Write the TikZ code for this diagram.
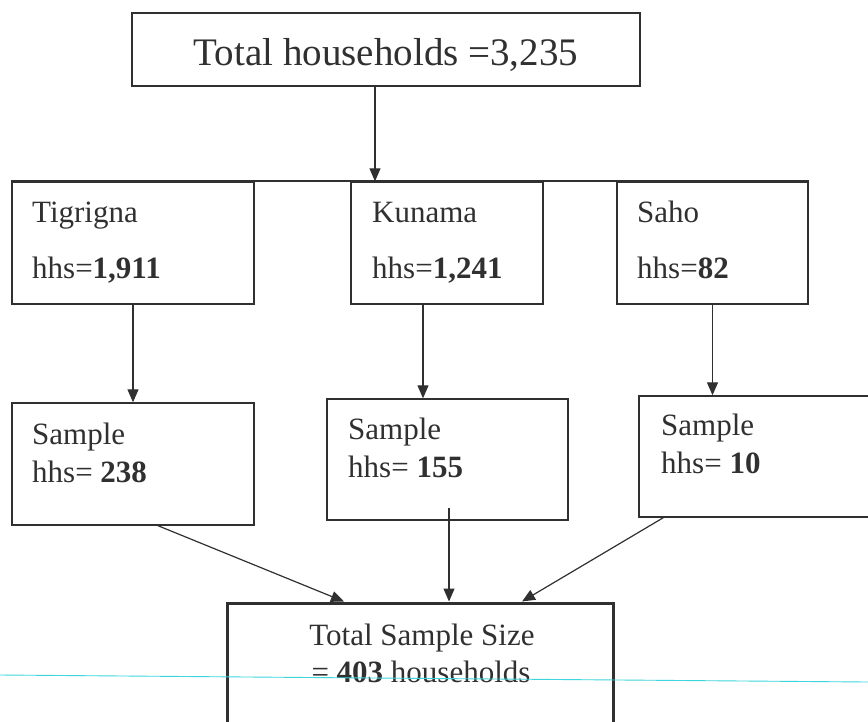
\documentclass[tikz,border=0pt]{standalone}
\usepackage{fontspec}
\setmainfont{Liberation Serif}
\usetikzlibrary{arrows.meta}
\definecolor{ink}{HTML}{303030}
\definecolor{scan}{HTML}{3CD6DC}
\begin{document}
\begin{tikzpicture}[x=1pt,y=-1pt,
  rbox/.style={draw=ink, line width=1.4pt, inner sep=0pt, anchor=center},
  lbl/.style={anchor=base west, inner sep=0pt, text=ink, font=\fontsize{31}{31}\selectfont},
  clbl/.style={anchor=base, inner sep=0pt, text=ink, font=\fontsize{31}{31}\selectfont},
  arr/.style={draw=ink, line width=1.2pt, -{Triangle[length=13pt,width=11pt]}}]
\clip (0,0) rectangle (868,721);
\fill[white] (0,0) rectangle (868,721);
% boxes
\node[rbox, minimum width=508pt, minimum height=73pt] (top) at (386,49.5) {};
\node[rbox, minimum width=242pt, minimum height=122pt] (tig) at (133,243) {};
\node[rbox, minimum width=192pt, minimum height=122pt] (kun) at (447,243) {};
\node[rbox, minimum width=191pt, minimum height=122pt] (saho) at (712.5,243) {};
\node[rbox, minimum width=242pt, minimum height=122pt] (s1) at (133,464) {};
\node[rbox, minimum width=241pt, minimum height=121pt] (s2) at (447.5,459.5) {};
\node[rbox, minimum width=241pt, minimum height=121pt] (s3) at (759.5,456.5) {};
\node[rbox, line width=3pt, minimum width=386pt, minimum height=127pt] (fin) at (420,666.5) {};
% bar across tops
\draw[draw=ink, line width=1.8pt] (tig.north west) -- (saho.north east);
% texts
\node[anchor=base, inner sep=0pt, text=ink, font=\fontsize{39}{39}\selectfont] (topt) at (386,65) {Total households =3,235};
\node[lbl] (tigA) at (32,222) {Tigrigna};
\node[lbl] (tigB) at (32,278) {hhs=\textbf{1,911}};
\node[lbl] (kunA) at (372,222) {Kunama};
\node[lbl] (kunB) at (372,278) {hhs=\textbf{1,241}};
\node[lbl] (sahoA) at (637,222) {Saho};
\node[lbl] (sahoB) at (637,278) {hhs=\textbf{82}};
\node[lbl] (s1A) at (32,444) {Sample};
\node[lbl] (s1B) at (32,482) {hhs= \textbf{238}};
\node[lbl] (s2A) at (348,439) {Sample};
\node[lbl] (s2B) at (348,477) {hhs= \textbf{155}};
\node[lbl] (s3A) at (661,435) {Sample};
\node[lbl] (s3B) at (661,473) {hhs= \textbf{10}};
\node[clbl] (finA) at (422,645) {Total Sample Size};
\node[clbl] (finB) at (421,682) {= \textbf{403} households};
% connectors
\draw[arr] ([xshift=-11pt]top.south) -- ([xshift=-11pt]top.south |- tig.north);
\draw[arr] (tig.south) -- (s1.north);
\draw[arr] ([xshift=-24pt]kun.south) -- ([xshift=-24pt]kun.south |- s2.north);
\draw[arr] (saho.south) -- (saho.south |- s3.north);
\draw[arr] ([xshift=25pt]s1.south) -- ([xshift=-76pt]fin.north);
\draw[arr] ([xshift=1.5pt,yshift=13pt]s2.south) -- ([xshift=29pt]fin.north);
\draw[arr] ([xshift=25pt]s3.south west) -- ([xshift=102pt]fin.north);
% scan line
\coordinate (scanL) at (0,675);
\coordinate (scanR) at (868,682);
\draw[scan, line width=0.9pt] (scanL) -- (scanR);
\end{tikzpicture}
\end{document}
